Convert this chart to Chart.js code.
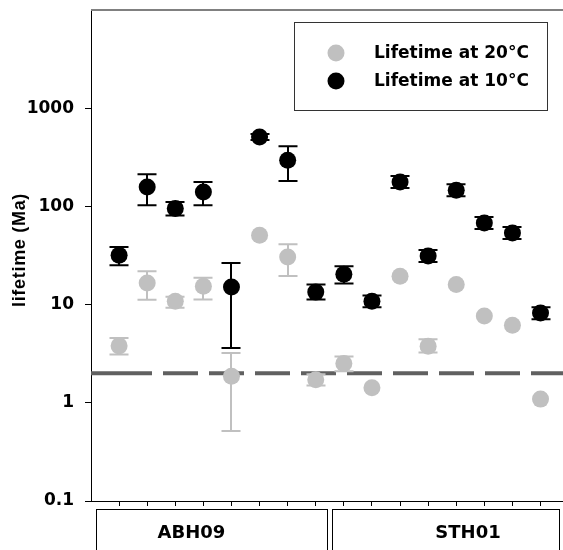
<!DOCTYPE html>
<html>
<head>
<meta charset="utf-8">
<script src="https://cdn.jsdelivr.net/npm/chart.js@4/dist/chart.umd.min.js"></script>
<style>
  html, body { margin: 0; padding: 0; background: #fff; overflow: hidden; }
  #wrap { width: 563px; height: 550px; }
</style>
</head>
<body>
<div id="wrap"><canvas id="c" width="563" height="550"></canvas></div>
<script>
// sample positions along x, and the two sample groups
const samples = [1, 2, 3, 4, 5, 6, 7, 8, 9, 10, 11, 12, 13, 14, 15, 16];
const groupNames = ['ABH09', 'STH01'];

// lifetime at 20 °C (Ma) with error range (null = too small to show)
const life20   = [3.8, 16.6, 10.8, 15.4, 1.86, 50.8, 30.5, 1.72, 2.51, 1.42, 19.4, 3.76, 16.0, 7.66, 6.15, 1.09];
const life20Lo = [3.1, 11.2, 9.3, 11.3, 0.516, null, 19.5, 1.5, 2.1, null, null, 3.25, null, null, null, null];
const life20Hi = [4.57, 21.8, 12.0, 18.8, 3.21, null, 41.1, 1.95, 2.97, null, null, 4.45, null, null, null, null];

// lifetime at 10 °C (Ma) with error range
const life10   = [31.8, 158, 95, 140, 15.1, 509, 295, 13.4, 20.4, 10.8, 177, 31.3, 146, 67.8, 53.6, 8.21];
const life10Lo = [25.1, 103, 81, 103, 3.61, 475, 181, 11.3, 16.4, 9.4, 154, 27.2, 127, 59, 46.6, 7.1];
const life10Hi = [38.6, 212, 111, 177, 26.5, 545, 409, 16.0, 24.6, 12.4, 204, 36, 168, 78, 61.6, 9.4];

const threshold = 2;
const yTicks = [0.1, 1, 10, 100, 1000];

const FONT = "'DejaVu Sans', sans-serif";
const TITLE_FONT = "'Liberation Sans', Arial, sans-serif";

const pts = (vals) => samples.map((x, i) => ({ x, y: vals[i] }));

// vertical error bars, drawn just before each dataset's points
const errorBars = {
  id: 'errorBars',
  beforeDatasetDraw(chart, args) {
    const ds = chart.data.datasets[args.index];
    if (!ds.errLo) return;
    const { ctx, scales: { x, y } } = chart;
    ctx.save();
    ctx.strokeStyle = ds.errColor;
    ctx.lineWidth = 2;
    samples.forEach((sx, i) => {
      if (ds.errLo[i] == null) return;
      const px = Math.round(x.getPixelForValue(sx));
      const top = y.getPixelForValue(ds.errHi[i]);
      const bot = y.getPixelForValue(ds.errLo[i]);
      ctx.beginPath();
      ctx.moveTo(px, top); ctx.lineTo(px, bot);
      ctx.moveTo(px - 9.5, top); ctx.lineTo(px + 9.5, top);
      ctx.moveTo(px - 9.5, bot); ctx.lineTo(px + 9.5, bot);
      ctx.stroke();
    });
    ctx.restore();
  }
};

// frame top, axis title, legend box and group boxes under the axis
const extras = {
  id: 'extras',
  afterDraw(chart) {
    const { ctx, chartArea: a, scales: { x } } = chart;
    ctx.save();
    ctx.strokeStyle = '#808080';
    ctx.lineWidth = 2;
    ctx.beginPath();
    ctx.moveTo(a.left, a.top); ctx.lineTo(a.right, a.top);
    ctx.stroke();

    // y title
    ctx.save();
    ctx.translate(20, 250);
    ctx.rotate(-Math.PI / 2);
    ctx.letterSpacing = '0.7px';
    ctx.font = 'bold 18px ' + TITLE_FONT;
    ctx.fillStyle = '#000';
    ctx.textAlign = 'center';
    ctx.textBaseline = 'middle';
    ctx.fillText('lifetime (Ma)', 0, 0);
    ctx.restore();

    // legend
    ctx.strokeStyle = '#333';
    ctx.lineWidth = 1;
    ctx.strokeRect(294.5, 22.5, 253, 88);
    const leg = [chart.data.datasets[1], chart.data.datasets[2]];
    ctx.font = 'bold 17px ' + FONT;
    ctx.textBaseline = 'middle';
    ctx.textAlign = 'left';
    leg.forEach((ds, i) => {
      const ly = 53 + i * 28;
      ctx.fillStyle = ds.backgroundColor;
      ctx.beginPath(); ctx.arc(336, ly, 8.5, 0, Math.PI * 2); ctx.fill();
      ctx.fillStyle = '#000';
      ctx.fillText(ds.label, 374, ly + 1);
    });

    // group boxes
    const boxes = [
      { l: x.getPixelForValue(1) - 23.5, r: x.getPixelForValue(8) + 10.5, tx: 191.5 },
      { l: x.getPixelForValue(9) - 12, r: x.getPixelForValue(16) + 18, tx: 468 }
    ];
    ctx.strokeStyle = '#000';
    ctx.textAlign = 'center';
    ctx.font = 'bold 18px ' + FONT;
    boxes.forEach((b, i) => {
      ctx.strokeRect(Math.round(b.l) + 0.5, 509.5, Math.round(b.r - b.l), 60);
      ctx.fillText(groupNames[i], b.tx, 533);
    });
    ctx.restore();
  }
};

const dash = [61, 11];
for (let i = 0; i < 10; i++) dash.push(35, 11);

new Chart(document.getElementById('c'), {
  data: {
    datasets: [
      {
        type: 'line', label: 'threshold',
        data: [{ x: 0, y: threshold }, { x: 16.8, y: threshold }],
        borderColor: '#606060', borderWidth: 4, borderDash: dash,
        pointRadius: 0, order: 3
      },
      {
        type: 'scatter', label: 'Lifetime at 20°C', data: pts(life20),
        backgroundColor: '#c0c0c0', borderWidth: 0, pointRadius: 8.5, pointHoverRadius: 8.5,
        errLo: life20Lo, errHi: life20Hi, errColor: '#c0c0c0', order: 2
      },
      {
        type: 'scatter', label: 'Lifetime at 10°C', data: pts(life10),
        backgroundColor: '#000000', borderWidth: 0, pointRadius: 8.5, pointHoverRadius: 8.5,
        errLo: life10Lo, errHi: life10Hi, errColor: '#000000', order: 1
      }
    ]
  },
  options: {
    responsive: false,
    animation: false,
    devicePixelRatio: 1,
    layout: { autoPadding: false, padding: { top: 10, right: 0, left: 0, bottom: 0 } },
    plugins: { legend: { display: false }, tooltip: { enabled: false } },
    scales: {
      x: {
        type: 'linear', min: 0, max: 16.8,
        afterBuildTicks: s => { s.ticks = samples.map(v => ({ value: v })); },
        afterFit: s => { s.height = 49; s.paddingLeft = 0; s.paddingRight = 0; },
        grid: { drawOnChartArea: false, tickLength: 5, color: '#000', tickWidth: 1 },
        border: { color: '#000', width: 1 },
        ticks: { callback: () => '', font: { size: 1 } }
      },
      y: {
        type: 'logarithmic', min: 0.1, max: 10000,
        afterBuildTicks: s => { s.ticks = yTicks.map(v => ({ value: v })); },
        afterFit: s => { s.width = 91; s.paddingTop = 0; s.paddingBottom = 0; },
        grid: { drawOnChartArea: false, tickLength: 6, color: '#000', tickWidth: 1 },
        border: { color: '#000', width: 1 },
        ticks: {
          color: '#000', padding: 11,
          font: { family: FONT, size: 17, weight: 'bold' },
          callback: v => String(v)
        }
      }
    }
  },
  plugins: [errorBars, extras]
});
</script>
</body>
</html>
